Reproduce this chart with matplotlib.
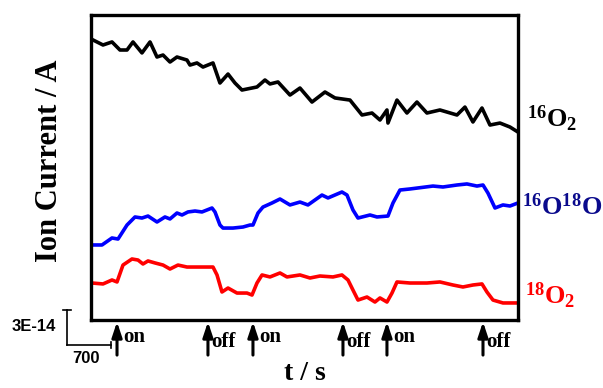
import matplotlib
matplotlib.use("Agg")
import matplotlib.pyplot as plt

plt.rcParams['mathtext.fontset'] = 'custom'
plt.rcParams['mathtext.rm'] = 'Liberation Serif:bold'
plt.rcParams['mathtext.bf'] = 'Liberation Serif:bold'
plt.rcParams['mathtext.it'] = 'Liberation Serif:bold'

# time in s, ion current in units of 1e-14 A (arbitrary offset)
t_16O2 = [32, 191, 334, 461, 573, 668, 811, 939, 1050, 1146, 1257, 1368, 1527, 1575, 1686,
          1782, 1941, 2052, 2180, 2291, 2402, 2641, 2768, 2848, 2975, 3166, 3325, 3516, 3723,
          3882, 4121, 4312, 4471, 4598, 4709, 4725, 4868, 5027, 5186, 5345, 5552, 5823, 5950,
          6077, 6221, 6348, 6507, 6666, 6793]
i_16O2 = [24.0, 23.57, 23.83, 23.14, 23.14, 23.83, 22.89, 23.83, 22.54, 22.71, 22.11, 22.54,
          22.28, 21.85, 22.03, 21.68, 22.03, 20.31, 21.08, 20.31, 19.71, 19.97, 20.57, 20.23,
          20.40, 19.28, 19.88, 18.68, 19.54, 19.03, 18.85, 17.57, 17.74, 17.14, 18.0, 16.88,
          18.85, 17.74, 18.68, 17.74, 18.0, 17.57, 18.25, 16.97, 18.17, 16.71, 16.88, 16.54, 16.11]

t_16O18O = [16, 175, 334, 430, 573, 700, 811, 907, 1050, 1177, 1257, 1368, 1448, 1543, 1655,
            1766, 1925, 1973, 2052, 2100, 2259, 2418, 2530, 2577, 2657, 2736, 2880, 3007, 3166,
            3325, 3452, 3675, 3771, 3993, 4073, 4168, 4248, 4439, 4550, 4725, 4805, 4916, 5075,
            5441, 5600, 5823, 5982, 6141, 6237, 6316, 6428, 6555, 6666, 6793]
i_16O18O = [6.43, 6.43, 7.03, 6.94, 8.14, 8.83, 8.74, 8.91, 8.40, 8.83, 8.66, 9.17, 9.0, 9.26,
            9.34, 9.26, 9.6, 9.26, 8.14, 7.88, 7.88, 7.97, 8.14, 8.14, 9.17, 9.68, 10.03, 10.37,
            9.86, 10.11, 9.86, 10.71, 10.46, 10.97, 10.71, 9.43, 8.74, 9.0, 8.83, 8.91, 10.03,
            11.14, 11.23, 11.48, 11.40, 11.57, 11.66, 11.48, 11.57, 10.88, 9.6, 9.86, 9.77, 10.03]

t_18O2 = [16, 191, 334, 414, 509, 652, 748, 827, 907, 1018, 1146, 1257, 1384, 1527, 1655,
          1782, 1941, 2005, 2084, 2180, 2323, 2482, 2562, 2641, 2721, 2848, 3007, 3118, 3325,
          3484, 3643, 3850, 3993, 4089, 4168, 4248, 4391, 4518, 4598, 4709, 4789, 4868, 5075,
          5345, 5552, 5759, 5918, 6077, 6221, 6300, 6396, 6555, 6666, 6793]
i_18O2 = [3.17, 3.09, 3.43, 3.26, 4.71, 5.23, 5.14, 4.8, 5.06, 4.89, 4.71, 4.37, 4.71, 4.54,
          4.54, 4.54, 4.54, 3.86, 2.40, 2.74, 2.31, 2.31, 2.14, 3.17, 3.86, 3.69, 4.03, 3.69,
          3.86, 3.6, 3.77, 3.69, 3.86, 3.43, 2.57, 1.71, 1.97, 1.54, 1.89, 1.54, 2.31, 3.26,
          3.17, 3.17, 3.26, 3.0, 2.83, 3.0, 3.09, 2.4, 1.71, 1.46, 1.46, 1.46]

switch_times = [414, 1861, 2577, 4009, 4709, 6237]
switch_labels = ["on", "off", "on", "off", "on", "off"]

series_labels = [r"$^{16}$O$_2$", r"$^{16}$O$^{18}$O", r"$^{18}$O$_2$"]

scale_t = 700      # s
scale_i = 3        # 1e-14 A
scale_t_label = "700"
scale_i_label = "3E-14"

fig = plt.figure(figsize=(6.03, 3.88), dpi=100)
ax = fig.add_axes([91/603, 68/388, 427/603, 305/388])

ax.plot(t_16O2, i_16O2, color="black", lw=2.6, solid_joinstyle="round")
ax.plot(t_16O18O, i_16O18O, color="#0000ff", lw=2.6, solid_joinstyle="round")
ax.plot(t_18O2, i_18O2, color="#ff0000", lw=2.6, solid_joinstyle="round")

ax.set_xlim(0, 6794)
ax.set_ylim(0, 26.14)
ax.set_xticks([])
ax.set_yticks([])
for s in ax.spines.values():
    s.set_linewidth(2.4)

serif = dict(family="Liberation Serif", weight="bold")

# right-side labels
ax.text(1.022, 17.2, series_labels[0], transform=ax.get_yaxis_transform(),
        color="black", fontsize=19, va="center", ha="left", **serif)
ax.text(1.010, 9.7, series_labels[1], transform=ax.get_yaxis_transform(),
        color="#0a0a8c", fontsize=19, va="center", ha="left", **serif)
ax.text(1.016, 2.1, series_labels[2], transform=ax.get_yaxis_transform(),
        color="#ff0000", fontsize=19, va="center", ha="left", **serif)

# on/off arrows
trans = ax.get_xaxis_transform()
for t, lab in zip(switch_times, switch_labels):
    ax.annotate("", xy=(t, -0.006), xycoords=trans, xytext=(t, -0.115), textcoords=trans,
                arrowprops=dict(arrowstyle="-|>,head_length=0.9,head_width=0.3",
                                lw=2.2, color="black", mutation_scale=10,
                                shrinkA=0, shrinkB=0),
                annotation_clip=False)
    if lab == "on":
        ax.annotate(lab, xy=(t, -0.055), xycoords=trans, xytext=(6, 0),
                    textcoords="offset pixels", ha="left", va="center",
                    fontsize=15, annotation_clip=False, **serif)
    else:
        ax.annotate(lab, xy=(t, -0.072), xycoords=trans, xytext=(3, 0),
                    textcoords="offset pixels", ha="left", va="center",
                    fontsize=15, annotation_clip=False, **serif)

# scale bar
t0, i0 = -380, -2.14
ax.plot([t0, t0], [i0, i0 + scale_i], color="black", lw=1.2, clip_on=False)
ax.plot([t0 - 60, t0 + 60], [i0 + scale_i, i0 + scale_i], color="black", lw=1.2, clip_on=False)
ax.plot([t0, t0 + scale_t], [i0, i0], color="black", lw=1.2, clip_on=False)
ax.plot([t0 + scale_t, t0 + scale_t], [i0 - 0.26, i0 + 0.26], color="black", lw=1.2, clip_on=False)
ax.text(t0 - 170, i0 + 1.6, scale_i_label, ha="right", va="center", fontsize=12,
        family="Liberation Sans", weight="bold")
ax.text(t0 + 300, i0 - 1.2, scale_t_label, ha="center", va="center", fontsize=12,
        family="Liberation Sans", weight="bold")

fig.text(50/603, 1 - 161/388, "Ion Current / A", rotation=90, ha="center", va="center",
         fontsize=22, **serif)
fig.text(305/603, 2/388, "t / s", ha="center", va="bottom", fontsize=20, **serif)

fig.savefig("out.png", dpi=100)
